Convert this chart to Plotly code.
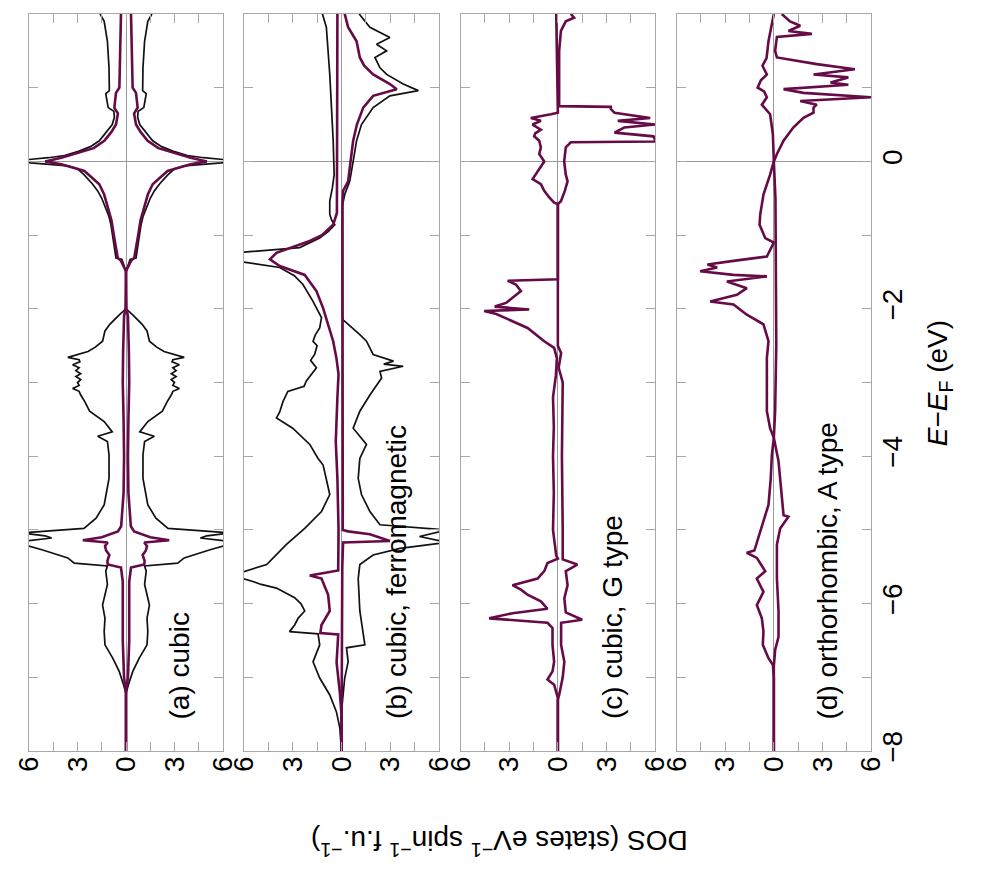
import plotly.graph_objects as go
from plotly.subplots import make_subplots

# ---------------- data (energy in eV, DOS in states/eV/spin/f.u.) ----------------
# (a) cubic, non-magnetic: spin up == spin down
a_tot_E = [2.0, 1.9, 1.63, 1.27, 0.96, 0.92, 0.85, 0.73, 0.68, 0.6, 0.5, 0.4, 0.28, 0.2, 0.14, 0.08, 0.05, 0.02, 0.0,
           -0.02, -0.06, -0.1, -0.18, -0.3, -0.4, -0.5, -0.63, -0.75, -0.86, -0.97, -1.08, -1.2, -1.31, -1.33, -1.45,
           -1.5, -1.8, -2.0, -2.08, -2.15, -2.21, -2.3, -2.44, -2.52, -2.58, -2.66, -2.69, -2.72, -2.76, -2.8, -2.84,
           -2.88, -2.92, -2.96, -3.0, -3.04, -3.08, -3.12, -3.17, -3.26, -3.39, -3.53, -3.67, -3.73, -3.8, -3.98,
           -4.3, -4.66, -4.84, -4.98, -5.04, -5.08, -5.11, -5.16, -5.2, -5.27, -5.38, -5.45, -5.49, -5.56, -5.74,
           -6.02, -6.2, -6.38, -6.56, -6.74, -6.92, -7.1, -7.22, -7.5, -8.0]
a_tot_D = [1.6, 1.35, 1.15, 1.05, 1.03, 1.25, 1.2, 1.1, 0.75, 0.72, 0.85, 1.2, 1.65, 2.2, 2.9, 3.8, 4.8, 6.3, 6.5,
           5.9, 3.6, 3.0, 2.6, 2.1, 1.75, 1.5, 1.25, 1.05, 0.93, 0.85, 0.76, 0.7, 0.62, 0.25, 0.1,
           0.0, 0.0, 0.0, 0.4, 0.75, 1.0, 1.3, 1.45, 1.9, 2.35, 3.6, 2.9, 2.85, 3.3, 2.9, 3.1,
           2.8, 3.1, 2.8, 3.0, 2.9, 3.3, 2.9, 2.8, 2.55, 2.25, 1.35, 0.85, 1.75, 1.15, 1.05,
           1.05, 1.35, 1.85, 2.6, 6.5, 5.0, 4.6, 6.5, 6.3, 5.2, 3.6, 3.2, 1.15, 1.25, 1.15,
           1.45, 1.3, 1.35, 1.3, 0.82, 0.42, 0.15, 0.0, 0.0, 0.0]
a_mn_E = [2.0, 1.63, 1.0, 0.93, 0.73, 0.65, 0.5, 0.4, 0.28, 0.18, 0.14, 0.05, 0.0, -0.04, -0.13, -0.31, -0.45,
          -0.63, -0.8, -0.99, -1.15, -1.31, -1.35, -1.49, -2.0, -2.1, -2.6, -3.0, -3.5, -4.0, -4.5, -4.95, -5.02,
          -5.1, -5.14, -5.17, -5.22, -5.28, -5.34, -5.42, -5.47, -5.51, -5.7, -6.5, -7.0, -7.2, -8.0]
a_mn_D = [0.31, 0.35, 0.41, 0.62, 0.72, 0.5, 0.62, 0.9, 1.34, 2.0, 2.57, 4.0, 5.0, 4.0, 2.57, 1.65, 1.35,
          1.13, 0.9, 0.76, 0.62, 0.51, 0.31, 0.0, 0.03, 0.12, 0.18, 0.2, 0.15, 0.12, 0.15, 0.3, 0.5,
          1.5, 2.67, 1.13, 1.3, 1.23, 1.03, 1.15, 1.13, 0.31, 0.2, 0.2, 0.12, 0.0, 0.0]

# (b) cubic, ferromagnetic
b_tot_up_E = [2.0, 1.82, 1.18, 0.28, -0.18, -0.36, -0.54, -0.72, -0.8, -0.86, -0.95, -1.04, -1.17, -1.24, -1.35,
              -1.44, -1.55, -1.67, -1.9, -2.12, -2.26, -2.35, -2.44, -2.5, -2.62, -2.7, -2.8, -2.9, -2.98, -3.05,
              -3.12, -3.26, -3.4, -3.48, -3.62, -3.84, -4.03, -4.12, -4.3, -4.52, -4.75, -4.98, -5.2, -5.47, -5.6,
              -5.65, -5.7, -5.74, -5.79, -5.92, -6.0, -6.1, -6.2, -6.29, -6.38, -6.41, -6.56, -6.79, -7.01, -7.24,
              -7.47, -7.69, -8.0]
b_tot_up_D = [1.17, 0.93, 0.72, 0.51, 0.45, 0.56, 0.72, 0.72, 0.6, 0.41, 0.8, 1.34, 2.57, 6.5, 6.5,
              3.8, 2.9, 2.37, 1.75, 1.23, 1.34, 1.6, 1.75, 1.5, 1.65, 1.9, 1.54, 1.9, 2.16, 2.3,
              3.3, 3.6, 3.8, 4.0, 3.0, 1.95, 1.44, 1.13, 0.93, 0.72, 1.23, 2.26, 3.4, 4.6, 6.5,
              6.2, 5.45, 4.94, 4.0, 2.88, 2.5, 2.26, 2.67, 2.88, 3.2, 1.44, 1.34, 1.75, 1.34, 0.72,
              0.31, 0.1, 0.0]
b_mn_up_E = [2.0, 0.0, -0.7, -0.86, -1.0, -1.08, -1.2, -1.24, -1.33, -1.42, -1.54, -1.76, -1.99, -2.21, -2.44,
             -2.67, -2.89, -3.2, -3.8, -4.3, -5.0, -5.55, -5.62, -5.66, -5.88, -6.1, -6.29, -6.4, -6.42, -6.8,
             -7.2, -7.5, -8.0]
b_mn_up_D = [0.25, 0.25, 0.28, 0.51, 1.2, 1.95, 3.5, 4.0, 4.4, 3.8, 2.26, 1.54, 1.13, 0.82, 0.51,
             0.31, 0.18, 0.25, 0.35, 0.25, 0.18, 0.2, 1.95, 1.23, 0.82, 0.72, 1.23, 1.3, 0.2, 0.3,
             0.1, 0.0, 0.0]
b_tot_dn_E = [2.0, 1.82, 1.68, 1.59, 1.5, 1.41, 1.27, 1.18, 1.05, 0.96, 0.89, 0.73, 0.5, 0.28, 0.0, -0.27, -0.45,
              -0.6, -2.1, -2.15, -2.35, -2.44, -2.62, -2.71, -2.75, -2.78, -2.85, -2.94, -3.17, -3.39, -3.62, -3.7,
              -3.84, -4.03, -4.3, -4.52, -4.75, -4.93, -5.0, -5.09, -5.17, -5.25, -5.34, -5.47, -5.66, -6.1, -6.56,
              -6.6, -6.79, -7.01, -7.24, -7.47, -8.0]
b_tot_dn_D = [1.09, 1.75, 2.98, 2.16, 2.78, 2.06, 2.37, 2.78, 3.8, 4.73, 2.98, 1.95, 1.23, 0.93, 0.72, 0.51, 0.2,
              0.06, 0.06, 0.1, 1.13, 1.54, 1.95, 3.2, 2.6, 3.8, 2.37, 2.47, 1.75, 1.13, 0.72, 1.0,
              1.54, 1.13, 1.03, 1.23, 1.75, 2.37, 6.5, 4.8, 6.5, 3.6, 1.95, 1.13, 1.03, 1.13, 1.44,
              0.31, 0.41, 0.2, 0.1, 0.0, 0.0]
b_mn_dn_E = [2.0, 1.82, 1.63, 1.41, 1.3, 1.18, 1.05, 0.98, 0.89, 0.73, 0.5, 0.28, 0.0, -0.27, -0.4, -0.6, -5.0,
             -5.02, -5.06, -5.11, -5.15, -5.17, -5.5, -8.0]
b_mn_dn_D = [0.2, 0.41, 0.93, 1.13, 1.4, 1.95, 2.98, 3.4, 1.95, 1.34, 0.95, 0.72, 0.56, 0.41, 0.1, 0.06, 0.08,
             0.41, 1.75, 2.37, 2.98, 0.1, 0.05, 0.0]

# (c) cubic, G type
c_up_E = [2.0, 1.0, 0.73, 0.66, 0.64, 0.59, 0.55, 0.5, 0.43, 0.38, 0.34, 0.28, 0.19, 0.1, 0.0, -0.13, -0.24,
          -0.31, -0.4, -0.49, -0.56, -0.58, -1.6, -1.62, -1.67, -1.76, -1.85, -1.92, -1.97, -2.01, -2.03, -2.07,
          -2.12, -2.26, -2.44, -2.53, -2.67, -2.9, -3.2, -3.6, -4.0, -4.5, -5.0, -5.35, -5.39, -5.45, -5.56,
          -5.66, -5.75, -5.81, -5.88, -5.97, -6.07, -6.13, -6.2, -6.26, -6.33, -6.56, -6.79, -6.92, -7.03,
          -7.1, -7.28, -8.0]
c_up_D = [0.1, 0.05, 0.0, 0.0, 0.43, 1.67, 1.05, 1.56, 1.05, 1.4, 1.46, 1.15, 1.05, 1.15, 0.84, 1.25, 1.56,
          1.05, 0.84, 0.53, 0.23, 0.0, 0.0, 3.1, 2.59, 2.28, 2.8, 3.2, 3.9, 1.77, 4.55, 3.8,
          3.3, 1.87, 0.84, 0.23, 0.06, 0.12, 0.3, 0.25, 0.3, 0.25, 0.3, 0.1, 0.0, 0.64, 0.84,
          1.25, 2.8, 2.28, 1.87, 1.05, 0.64, 2.8, 4.24, 0.64, 0.33, 0.33, 0.23, 0.33, 0.64,
          0.23, 0.0, 0.0]
c_dn_E = [2.0, 1.95, 1.9, 1.77, 1.5, 0.75, 0.74, 0.71, 0.66, 0.59, 0.55, 0.5, 0.46, 0.39, 0.34, 0.3, 0.27, 0.26,
          0.19, 0.0, -0.18, -0.27, -0.4, -0.54, -0.58, -2.5, -2.6, -2.8, -3.0, -4.0, -5.0, -5.4, -5.47, -5.56,
          -5.75, -5.93, -6.12, -6.22, -6.26, -6.56, -6.79, -7.0, -7.24, -7.3, -8.0]
c_dn_D = [0.8, 1.0, 0.49, 0.19, 0.08, 0.08, 3.27, 3.27, 3.5, 5.7, 3.7, 6.0, 4.1, 3.5, 5.9, 6.0, 6.0, 0.8,
          0.49, 0.39, 0.49, 0.6, 0.43, 0.19, 0.0, 0.0, 0.2, 0.05, 0.3, 0.25, 0.3, 0.3, 1.2, 0.49,
          0.6, 0.4, 0.49, 1.5, 0.2, 0.2, 0.4, 0.3, 0.08, 0.0, 0.0]

# (d) orthorhombic, A type
d_up_E = [2.0, 1.63, 1.4, 1.3, 1.27, 1.18, 1.1, 1.0, 0.95, 0.87, 0.77, 0.64, 0.37, 0.0, -0.18, -0.45, -0.6,
          -0.72, -0.86, -1.04, -1.1, -1.29, -1.35, -1.4, -1.44, -1.49, -1.54, -1.56, -1.63, -1.72, -1.81, -1.9,
          -1.94, -2.08, -2.21, -2.44, -2.67, -2.89, -3.39, -3.62, -3.75, -3.98, -4.3, -4.66, -4.89, -5.11,
          -5.28, -5.31, -5.38, -5.56, -5.66, -5.84, -6.02, -6.2, -6.38, -6.56, -6.74, -6.83, -7.0, -8.0]
d_up_D = [0.0, 0.33, 0.45, 0.7, 0.64, 0.43, 0.8, 1.0, 0.6, 0.43, 0.74, 0.23, 0.06, 0.0, 0.23, 0.64, 0.75,
          0.84, 0.88, 0.53, 0.0, 0.43, 2.49, 4.1, 3.5, 4.55, 2.49, 0.43, 2.9, 1.67, 2.28, 3.93,
          2.49, 1.67, 0.64, 0.33, 0.43, 0.43, 0.43, 0.23, 0.0, 0.12, 0.19, 0.33, 0.64, 0.95,
          1.2, 1.67, 1.05, 0.53, 1.05, 0.64, 1.05, 0.74, 0.64, 0.68, 0.33, 0.06, 0.0, 0.0]
d_dn_E = [2.0, 1.9, 1.84, 1.77, 1.73, 1.69, 1.5, 1.41, 1.32, 1.25, 1.18, 1.14, 1.07, 1.04, 0.98, 0.93, 0.87,
          0.82, 0.77, 0.73, 0.66, 0.59, 0.46, 0.28, 0.1, 0.0, -0.5, -1.5, -2.5, -3.39, -3.75, -4.07, -4.3,
          -4.52, -4.8, -4.82, -4.98, -5.2, -5.66, -6.1, -6.45, -6.63, -6.85, -8.0]
d_dn_D = [0.49, 1.0, 1.63, 0.9, 2.35, 0.19, 0.08, 0.19, 2.65, 5.0, 2.45, 4.6, 3.5, 4.6, 0.6, 1.83, 6.05,
          1.63, 2.65, 2.45, 2.45, 1.83, 1.2, 0.6, 0.19, 0.0, 0.1, 0.12, 0.15, 0.08, 0.0, 0.29, 0.39,
          0.49, 0.6, 0.9, 0.39, 0.19, 0.19, 0.29, 0.29, 0.08, 0.0, 0.0]

panel_labels = ["(a) cubic", "(b) cubic, ferromagnetic", "(c) cubic, G type", "(d) orthorhombic, A type"]
dos_tickvals = [-6, -3, 0, 3, 6]
dos_ticktext = ["6", "3", "0", "3", "6"]
e_tickvals = [-8, -6, -4, -2, 0, 2]
e_ticktext = ["\u22128", "\u22126", "\u22124", "\u22122", "0", "2"]

# ---------------- figure ----------------
BLACK = "#111111"
PURPLE = "#660a48"
FRAME = "#a8a8a8"
FONT = "Liberation Sans, Arial, sans-serif"

fig = make_subplots(rows=1, cols=4)

def neg(v):
    return [-x for x in v]

# spin up -> positive DOS (drawn to the left, axis reversed); spin down -> negative
panels = [
    [(a_tot_D, a_tot_E, BLACK, 1.7), (neg(a_tot_D), a_tot_E, BLACK, 1.7),
     (a_mn_D, a_mn_E, PURPLE, 2.6), (neg(a_mn_D), a_mn_E, PURPLE, 2.6)],
    [(b_tot_up_D, b_tot_up_E, BLACK, 1.7), (neg(b_tot_dn_D), b_tot_dn_E, BLACK, 1.7),
     (b_mn_up_D, b_mn_up_E, PURPLE, 2.6), (neg(b_mn_dn_D), b_mn_dn_E, PURPLE, 2.6)],
    [(c_up_D, c_up_E, PURPLE, 2.6), (neg(c_dn_D), c_dn_E, PURPLE, 2.6)],
    [(d_up_D, d_up_E, PURPLE, 2.6), (neg(d_dn_D), d_dn_E, PURPLE, 2.6)],
]
for i, traces in enumerate(panels):
    for xs, ys, col, w in traces:
        fig.add_trace(go.Scatter(x=xs, y=ys, mode="lines", line=dict(color=col, width=w),
                                 showlegend=False, hoverinfo="skip"), row=1, col=i + 1)

domains = [[0.0, 0.2304], [0.2553, 0.4869], [0.5127, 0.7435], [0.7692, 1.0]]
for i in range(4):
    xa = "xaxis" if i == 0 else f"xaxis{i+1}"
    ya = "yaxis" if i == 0 else f"yaxis{i+1}"
    fig.layout[xa].update(
        domain=domains[i], range=[6, -6], tickvals=dos_tickvals, ticktext=dos_ticktext,
        tickangle=-90, ticks="inside", ticklen=9, tickcolor=FRAME, tickwidth=1,
        minor=dict(tick0=0, dtick=1.5, ticks="inside", ticklen=9, tickcolor=FRAME, tickwidth=1),
        showline=True, linecolor=FRAME, linewidth=1.3, mirror="ticks", showgrid=False,
        zeroline=True, zerolinecolor="#999999", zerolinewidth=1,
        tickfont=dict(family=FONT, size=28, color="black"), ticklabelstandoff=-7)
    fig.layout[ya].update(
        range=[-8, 2], tickvals=e_tickvals, ticktext=e_ticktext,
        ticks="inside", ticklen=9, tickcolor=FRAME, tickwidth=1,
        minor=dict(tick0=0, dtick=1, ticks="inside", ticklen=9, tickcolor=FRAME, tickwidth=1),
        showline=True, linecolor=FRAME, linewidth=1.3, mirror="ticks", showgrid=False,
        zeroline=True, zerolinecolor="#999999", zerolinewidth=1,
        showticklabels=(i == 3), side="right" if i == 3 else "left",
        tickangle=-90, tickfont=dict(family=FONT, size=28, color="black"), ticklabelstandoff=-4)

label_x = [0.1793, 0.4359, 0.6924, 0.9489]
for lx, txt in zip(label_x, panel_labels):
    fig.add_annotation(x=lx, y=0.0407, xref="paper", yref="paper", text=txt, textangle=-90,
                       showarrow=False, xanchor="center", yanchor="bottom",
                       font=dict(family=FONT, size=28, color="black"))

fig.add_annotation(x=1.104, y=0.499, xref="paper", yref="paper",
                   text="<i>E</i>\u2212<i>E</i><sub>F</sub> (eV)", textangle=-90, showarrow=False,
                   font=dict(family=FONT, size=28, color="black"))
fig.add_annotation(x=0.558, y=-0.152, xref="paper", yref="paper",
                   text="DOS (states eV<sup>\u22121</sup> spin<sup>\u22121</sup> f.u.<sup>\u22121</sup>)",
                   textangle=180, showarrow=False,
                   font=dict(family=FONT, size=28, color="black"))

fig.update_layout(width=999, height=885, margin=dict(l=21, r=136, t=6, b=142),
                  plot_bgcolor="white", paper_bgcolor="white")

fig.write_html("out.html")
